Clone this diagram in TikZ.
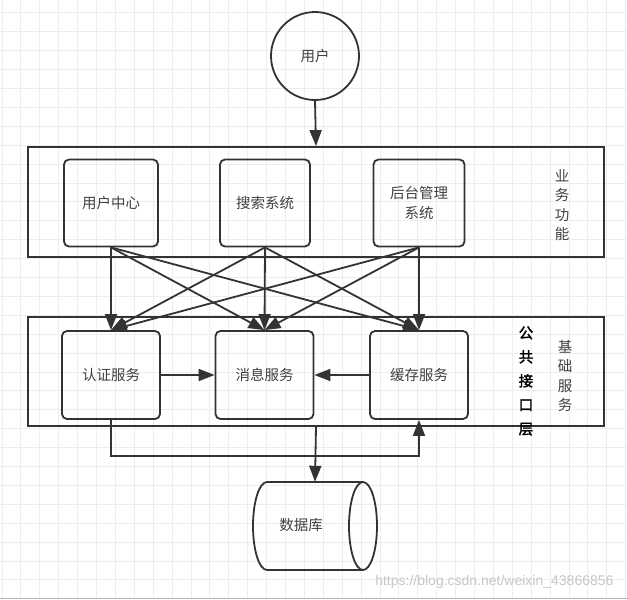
\documentclass[tikz,border=0pt]{standalone}
\usepackage{fontspec}
\newfontfamily\cjk{Noto Sans CJK SC}
\newfontfamily\cjkbold[FakeBold=2]{Noto Sans CJK SC}
\setsansfont{Liberation Sans}
\usetikzlibrary{arrows.meta}
\tikzset{
  gridline/.style={draw=black!7, line width=0.6pt},
  layer/.style={draw=black!80, line width=1.8pt, minimum width=576pt, minimum height=110pt},
  svcbox/.style={draw=black!80, line width=1.8pt, rounded corners=5pt, minimum width=96pt,
    minimum height=87pt, align=center, text=black!75, font=\cjk\fontsize{14.5}{20}\selectfont},
  vlabel/.style={align=center, text=black!75, font=\cjk\fontsize{14.5}{19.5}\selectfont},
  arr/.style={draw=black!80, line width=1.8pt, -{Triangle[length=16pt,width=12pt]}},
}
\begin{document}
\begin{tikzpicture}[x=1pt,y=-1pt]
\useasboundingbox (0,0) rectangle (627,600);
% \draw[help lines] (0,0) grid (627,600);
\fill[white] (0,0) rectangle (627,600);
\foreach \i in {0,...,33} \draw[gridline] ({1.8+18.9*\i},0) -- ++(0,598);
\foreach \i in {0,...,31} \draw[gridline] (0,{12.7+18.9*\i}) -- ++(627,0);
\draw[black!30, line width=0.8pt] (0,598) -- (627,598);
% user
\node[circle, draw=black!80, line width=1.8pt, minimum size=88pt, text=black!75,
  font=\cjk\fontsize{14.5}{17}\selectfont] (user) at (315,56) {用户};
% two layers
\node[layer] (biz) at (316,202) {};
\node[layer, minimum height=109pt] (base) at (316,371.5) {};
\node[vlabel] (bizlab) at (562,205) {业\\务\\功\\能};
\node[vlabel] (baselab) at (565,376) {基\\础\\服\\务};
\node[align=center, text=black, font=\cjkbold\fontsize{14.5}{24}\selectfont] (api) at (526,381) {公\\共\\接\\口\\层};
% business boxes
\node[svcbox, minimum width=94pt] (u1) at (111,203) {用户中心};
\node[svcbox, minimum width=90pt] (u2) at (265,203) {搜索系统};
\node[svcbox, minimum width=91pt] (u3) at (419,203) {后台管理\\系统};
% service boxes
\node[svcbox, minimum width=98pt, minimum height=88pt] (b1) at (111,375) {认证服务};
\node[svcbox, minimum width=98pt, minimum height=88pt] (b2) at (264.5,375) {消息服务};
\node[svcbox, minimum width=98pt, minimum height=88pt] (b3) at (419,375) {缓存服务};
% database
\node[minimum width=124pt, minimum height=88pt, inner sep=0pt] (db) at (315,526) {};
\draw[black!80, line width=1.8pt] (363,482) -- (267,482)
  arc[start angle=90, end angle=270, x radius=14pt, y radius=44pt] -- (363,570);
\draw[black!80, line width=1.8pt] (363,526) ellipse [x radius=14pt, y radius=44pt];
\node[text=black!75, font=\cjk\fontsize{14.5}{17}\selectfont] (dbtext) at (301,525) {数据库};
\coordinate (loop) at (111,456);
% connectors
\draw[arr] (user.south) -- (biz.north);
\foreach \s in {u1,u2,u3}
  \foreach \t in {b1,b2,b3}
    \draw[arr] (\s.south) -- (\t.north);
\draw[arr] (b1.east) -- (b2.west);
\draw[arr] (b3.west) -- (b2.east);
\draw[arr] (b1.south) -- (loop) -| (b3.south);
\draw[arr] (base.south) -- (db.north);
\node[text=black!22, font=\sffamily\fontsize{14}{16}\selectfont, anchor=east] (mark) at (617,582) {https://blog.csdn.net/weixin\_43866856};
\end{tikzpicture}
\end{document}
